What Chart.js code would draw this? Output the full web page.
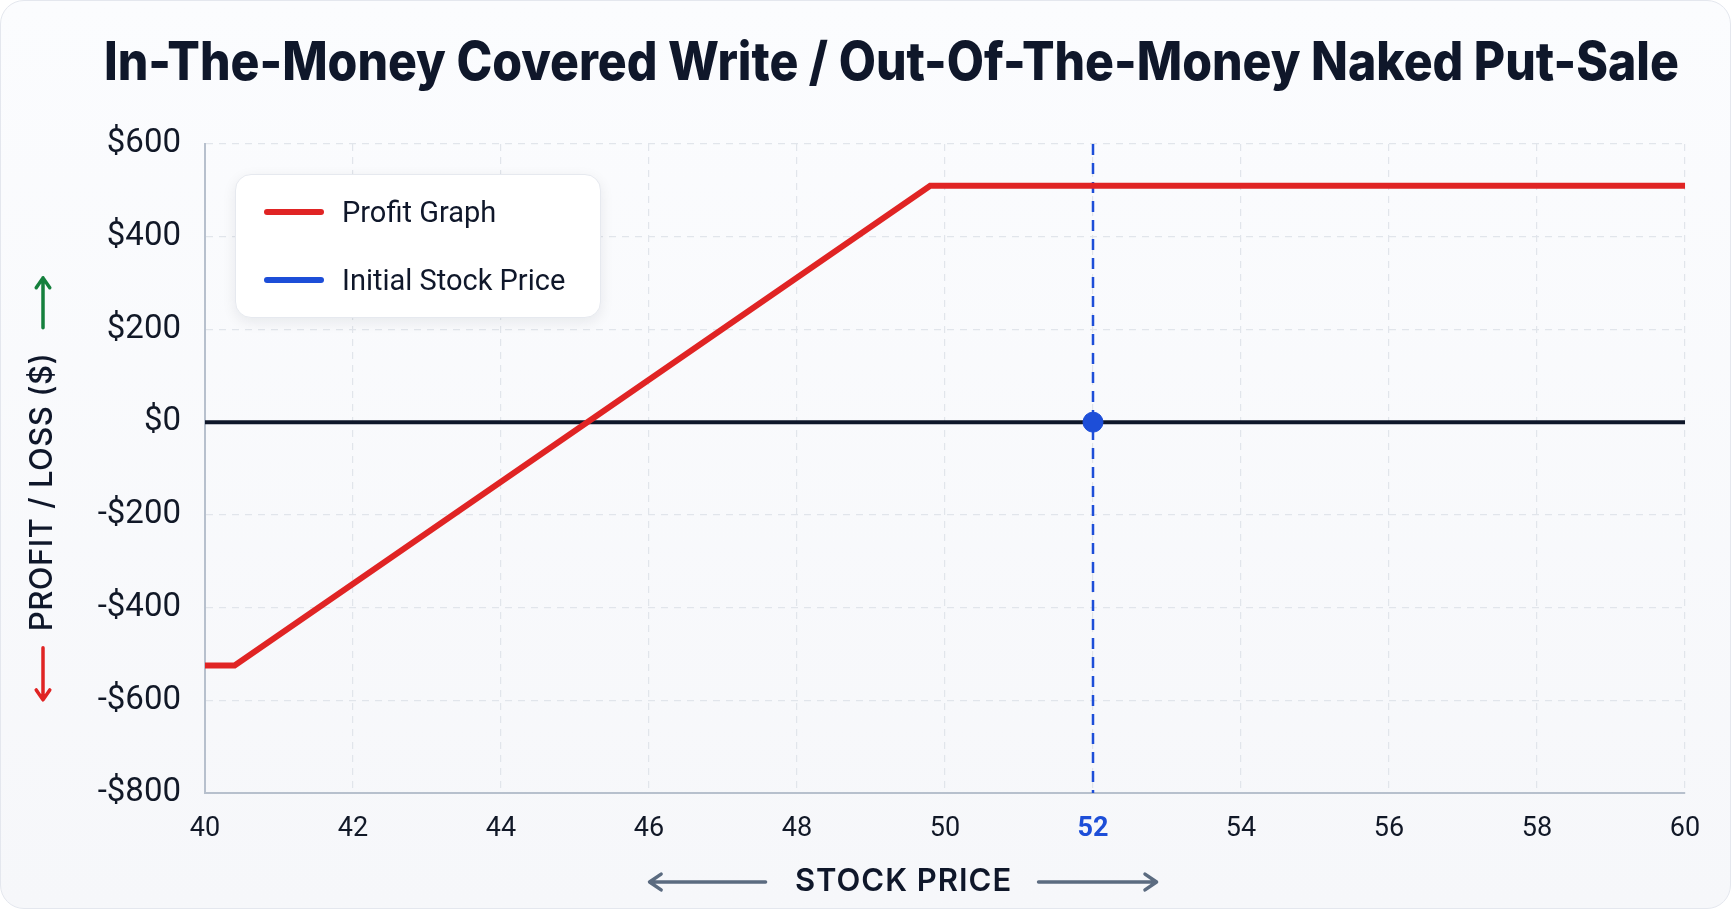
<!DOCTYPE html>
<html>
<head>
<meta charset="utf-8">
<title>In-The-Money Covered Write / Out-Of-The-Money Naked Put-Sale</title>
<script src="https://cdn.jsdelivr.net/npm/chart.js@4.4.1/dist/chart.umd.min.js"></script>
<style>
  html, body { margin: 0; padding: 0; background: #ffffff; }
  #card {
    position: relative;
    width: 1729px; height: 907px;
    border: 1px solid #e4e7ee;
    border-radius: 24px;
    background: linear-gradient(180deg, #fbfcfe 0%, #f6f7fa 100%);
    overflow: hidden;
  }
  #title {
    position: absolute; left: 103px; top: 31px;
    margin: 0;
    font-family: Inter, "Noto Sans", sans-serif;
    font-weight: 800; font-size: 53px; line-height: 1.1;
    color: #0f172a; white-space: nowrap;
    transform-origin: left top;
  }
  #chartBox { position: absolute; left: 0; top: 0; width: 1731px; height: 909px; }
  #legend {
    position: absolute; left: 234px; top: 173px;
    width: 364px; height: 142px;
    background: #ffffff;
    border: 1px solid #e6e9ef;
    border-radius: 16px;
    box-shadow: 0 4px 14px rgba(15, 23, 42, 0.08);
    font-family: Roboto, "Noto Sans", sans-serif;
    font-size: 29px; color: #0f172a;
  }
  #legend .item { position: absolute; left: 28px; display: flex; align-items: center; }
  #legend .swatch { width: 60px; height: 6px; border-radius: 3px; margin-right: 18px; }
</style>
</head>
<body>
<div id="card">
  <div id="chartBox"><canvas id="payoff"></canvas></div>
  <h1 id="title">In-The-Money Covered Write / Out-Of-The-Money Naked Put-Sale</h1>
  <div id="legend"></div>
</div>
<script>
// stock price (x) and profit/loss (y)
const priceTicks = [40, 42, 44, 46, 48, 50, 52, 54, 56, 58, 60];
const profitTicks = [-800, -600, -400, -200, 0, 200, 400, 600];
const profitX = [40, 40.4, 49.8, 60];
const profitY = [-525, -525, 510, 510];
const initialPrice = 52;

const RED = "#e02424";
const BLUE = "#1d4ed8";
const INK = "#0f172a";

// axis titles with the arrows round them
const axisTitles = {
  id: "axisTitles",
  afterDraw(chart) {
    const { ctx, chartArea: a } = chart;
    ctx.save();

    function arrow(x1, y1, x2, y2, color, head) {
      const ang = Math.atan2(y2 - y1, x2 - x1);
      ctx.strokeStyle = color;
      ctx.lineWidth = 3.5;
      ctx.lineCap = "round";
      ctx.lineJoin = "round";
      ctx.beginPath();
      ctx.moveTo(x1, y1);
      ctx.lineTo(x2, y2);
      ctx.moveTo(x2 - head * Math.cos(ang - 0.6), y2 - head * Math.sin(ang - 0.6));
      ctx.lineTo(x2, y2);
      ctx.lineTo(x2 - head * Math.cos(ang + 0.6), y2 - head * Math.sin(ang + 0.6));
      ctx.stroke();
    }

    // x title
    const cx = a.left + a.width * 0.472;
    const ty = a.bottom + 89;
    ctx.font = "600 31px Inter, sans-serif";
    ctx.fillStyle = INK;
    ctx.textAlign = "center";
    ctx.textBaseline = "middle";
    ctx.letterSpacing = "1px";
    ctx.fillText("STOCK PRICE", cx, ty);
    arrow(cx - 138, ty, cx - 254, ty, "#5b6b80", 14);
    arrow(cx + 135, ty, cx + 253, ty, "#5b6b80", 14);

    // y title
    const tx = 42, yc = a.top + a.height * 0.536;
    ctx.save();
    ctx.translate(tx, yc);
    ctx.rotate(-Math.PI / 2);
    ctx.font = "500 31px Inter, sans-serif";
    ctx.letterSpacing = "0.5px";
    ctx.fillText("PROFIT / LOSS ($)", 0, 0);
    ctx.restore();
    arrow(tx, yc - 164, tx, yc - 214, "#15803d", 12);
    arrow(tx, yc + 156, tx, yc + 208, RED, 12);

    ctx.restore();
  }
};

const chart = new Chart(document.getElementById("payoff").getContext("2d"), {
  type: "line",
  data: {
    datasets: [
      {
        label: "Profit Graph",
        data: profitX.map((x, i) => ({ x, y: profitY[i] })),
        borderColor: RED,
        backgroundColor: RED,
        borderWidth: 6,
        pointRadius: 0,
        tension: 0
      },
      {
        label: "initial point",
        data: [{ x: initialPrice, y: 0 }],
        showLine: false,
        pointRadius: 10,
        pointBackgroundColor: BLUE,
        pointBorderColor: BLUE,
        hideLegend: true
      },
      {
        label: "Initial Stock Price",
        data: [{ x: initialPrice, y: profitTicks[profitTicks.length - 1] }, { x: initialPrice, y: profitTicks[0] }],
        borderColor: BLUE,
        backgroundColor: BLUE,
        borderWidth: 2.5,
        borderDash: [11, 8],
        pointRadius: 0
      },
      {
        label: "zero",
        data: [{ x: priceTicks[0], y: 0 }, { x: priceTicks[priceTicks.length - 1], y: 0 }],
        borderColor: INK,
        borderWidth: 4,
        pointRadius: 0,
        hideLegend: true
      }
    ]
  },
  options: {
    responsive: true,
    maintainAspectRatio: false,
    animation: false,
    layout: { padding: { top: 143, right: 47, left: 0, bottom: 0 } },
    plugins: {
      legend: { display: false },
      tooltip: { enabled: false },
      title: { display: false }
    },
    scales: {
      x: {
        type: "linear",
        min: priceTicks[0],
        max: priceTicks[priceTicks.length - 1],
        afterBuildTicks: s => { s.ticks = priceTicks.map(v => ({ value: v })); },
        afterFit: s => { s.height = 117; },
        ticks: {
          padding: 20,
          color: c => c.tick && c.tick.value === initialPrice ? BLUE : "#111827",
          font: c => ({
            family: "Roboto",
            size: 27,
            weight: c.tick && c.tick.value === initialPrice ? 700 : 400
          })
        },
        grid: { color: "#e1e5eb", lineWidth: 1.2, drawTicks: false },
        border: { display: true, color: "#b7c0cd", width: 2, dash: [7, 6] }
      },
      y: {
        min: profitTicks[0],
        max: profitTicks[profitTicks.length - 1],
        afterBuildTicks: s => { s.ticks = profitTicks.map(v => ({ value: v })); },
        afterFit: s => { s.width = 204; },
        ticks: {
          padding: 24,
          color: "#111827",
          font: { family: "Roboto", size: 33 },
          callback: v => (v < 0 ? "-$" : "$") + Math.abs(v)
        },
        grid: { color: "#e1e5eb", lineWidth: 1.2, drawTicks: false },
        border: { display: true, color: "#b7c0cd", width: 2, dash: [7, 6] }
      }
    }
  },
  plugins: [axisTitles]
});

// html legend from the chart's own datasets
const legend = document.getElementById("legend");
chart.data.datasets.filter(d => !d.hideLegend && d.label !== "zero").forEach((d, i) => {
  const item = document.createElement("div");
  item.className = "item";
  item.style.top = (20 + i * 68) + "px";
  item.innerHTML = '<span class="swatch" style="background:' + d.borderColor + '"></span><span>' + d.label + "</span>";
  legend.appendChild(item);
});

// squeeze the title to the width it has in the picture
const title = document.getElementById("title");
title.style.transform = "scaleX(" + (1575 / title.scrollWidth) + ")";
</script>
</body>
</html>
